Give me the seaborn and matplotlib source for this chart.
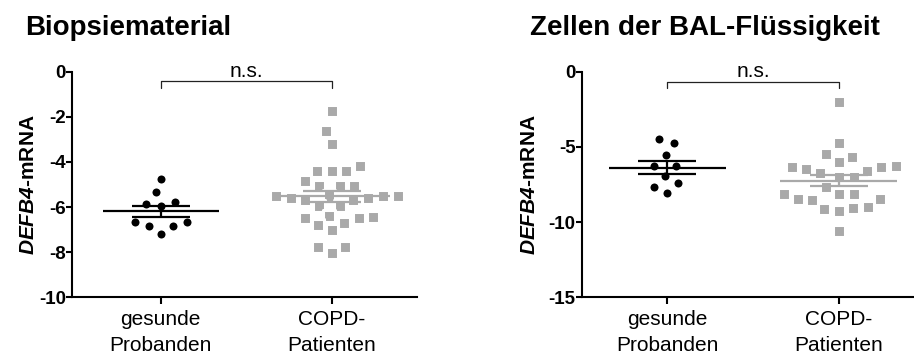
import numpy as np
import pandas as pd
import matplotlib
matplotlib.use("Agg")
import matplotlib.pyplot as plt
import seaborn as sns

# ---- data ----
categories = ["gesunde\nProbanden", "COPD-\nPatienten"]
titles = ["Biopsiematerial", "Zellen der BAL-Flüssigkeit"]
ylabel = r"$\mathbfit{DEFB4}$-mRNA"

bio_healthy = [-4.75, -5.35, -5.88, -5.94, -5.76, -6.65, -6.84, -6.84, -6.65, -7.21]
bio_copd = [-1.73, -2.61, -3.19, -4.18, -4.40, -4.40, -4.40, -4.86, -5.05, -5.05,
            -5.05, -5.50, -5.50, -5.60, -5.60, -5.70, -5.70, -5.50, -5.50, -5.95,
            -5.95, -6.43, -6.50, -6.40, -6.50, -6.80, -6.70, -7.02, -7.78, -7.78,
            -8.02]
bal_healthy = [-4.50, -4.76, -5.56, -6.27, -6.27, -6.93, -7.42, -7.64, -8.09]
bal_copd = [-2.04, -4.72, -5.50, -5.65, -6.02, -6.27, -6.36, -6.31, -6.45, -6.58,
            -6.76, -6.98, -6.98, -7.64, -8.11, -8.11, -8.11, -8.47, -8.50, -8.47,
            -9.02, -9.10, -9.24, -9.06, -10.57]

bio_yticks = [0, -2, -4, -6, -8, -10]
bal_yticks = [0, -5, -10, -15]
sig_label = "n.s."

# ---- style ----
sns.set_theme(style="ticks")
plt.rcParams["font.family"] = ["Liberation Sans", "DejaVu Sans"]
plt.rcParams["mathtext.fontset"] = "custom"
plt.rcParams["mathtext.rm"] = "Liberation Sans"
plt.rcParams["mathtext.bf"] = "Liberation Sans:bold"
plt.rcParams["mathtext.it"] = "Liberation Sans:italic"
plt.rcParams["mathtext.bfit"] = "Liberation Sans:italic:bold"
for k in ["text.color", "axes.labelcolor", "xtick.color", "ytick.color",
          "xtick.labelcolor", "ytick.labelcolor", "axes.edgecolor"]:
    plt.rcParams[k] = "black"

BLACK = "#000000"
GRAY = "#A9A9A9"

W, H = 914, 356
fig = plt.figure(figsize=(W / 100, H / 100), dpi=100)

def px_rect(x0, x1, ytop, ybot):
    return [x0 / W, 1 - ybot / H, (x1 - x0) / W, (ybot - ytop) / H]

ax1 = fig.add_axes(px_rect(72, 417, 71.7, 297.3))
ax2 = fig.add_axes(px_rect(581.7, 914, 71.7, 297.3))


def panel(ax, healthy, copd, ylim, yticks, xlim, bracket, text_y, label_x):
    df = pd.DataFrame({
        "group": [categories[0]] * len(healthy) + [categories[1]] * len(copd),
        "value": list(healthy) + list(copd),
    })
    sns.swarmplot(data=df[df.group == categories[0]], x="group", y="value",
                  order=categories, color=BLACK, marker="o", size=8.0,
                  linewidth=2.2, edgecolor="white", ax=ax, zorder=2)
    sns.swarmplot(data=df[df.group == categories[1]], x="group", y="value",
                  order=categories, color=GRAY, marker="s", size=8.0,
                  linewidth=2.2, edgecolor="white", ax=ax, zorder=2)
    # mean +/- SEM
    for i, (vals, col) in enumerate([(healthy, BLACK), (copd, GRAY)]):
        v = np.asarray(vals)
        m = v.mean()
        sem = v.std(ddof=1) / np.sqrt(len(v))
        ax.hlines(m, i - 0.34, i + 0.34, color=col, lw=1.6, zorder=3)
        ax.hlines([m - sem, m + sem], i - 0.17, i + 0.17, color=col, lw=1.6, zorder=3)
        ax.vlines(i, m - sem, m + sem, color=col, lw=1.6, zorder=3)
    # significance bracket
    yb, yd = bracket
    ax.plot([0, 0, 1, 1], [yd, yb, yb, yd], color="#222222", lw=0.9,
            clip_on=False, zorder=4)
    ax.text(0.5, text_y, sig_label, ha="center", va="baseline", fontsize=15,
            clip_on=False)

    ax.set_xlim(*xlim)
    ax.set_ylim(*ylim)
    ax.set_yticks(yticks)
    ax.set_yticklabels([str(t) for t in yticks], fontweight="bold", fontsize=13.5)
    ax.set_xticks([0, 1])
    ax.set_xticklabels(categories, fontsize=15, linespacing=1.5)
    ax.set_xlabel("")
    ax.set_ylabel(ylabel, fontsize=15, fontweight="bold")
    ax.yaxis.set_label_coords(label_x, 0.5)
    for s in ["top", "right"]:
        ax.spines[s].set_visible(False)
    for s in ["left", "bottom"]:
        ax.spines[s].set_linewidth(1.5)
        ax.spines[s].set_color(BLACK)
    ax.tick_params(axis="y", length=4, width=1.5, pad=0.5, colors=BLACK)
    ax.tick_params(axis="x", length=5, width=1.5, pad=4, colors=BLACK)
    ax.set_facecolor("white")


panel(ax1, bio_healthy, bio_copd, (-10, 0), bio_yticks, (-0.52, 1.5),
      (-0.41, -0.73), -0.22, -0.100)
panel(ax2, bal_healthy, bal_copd, (-15, 0), bal_yticks, (-0.5, 1.44),
      (-0.66, -1.1), -0.37, -0.130)

fig.text(25 / W, 1 - 35 / H, titles[0], fontsize=20, fontweight="bold",
         ha="left", va="baseline")
fig.text(530 / W, 1 - 35 / H, titles[1], fontsize=20, fontweight="bold",
         ha="left", va="baseline")

fig.savefig("out.png", dpi=100, facecolor="white")
